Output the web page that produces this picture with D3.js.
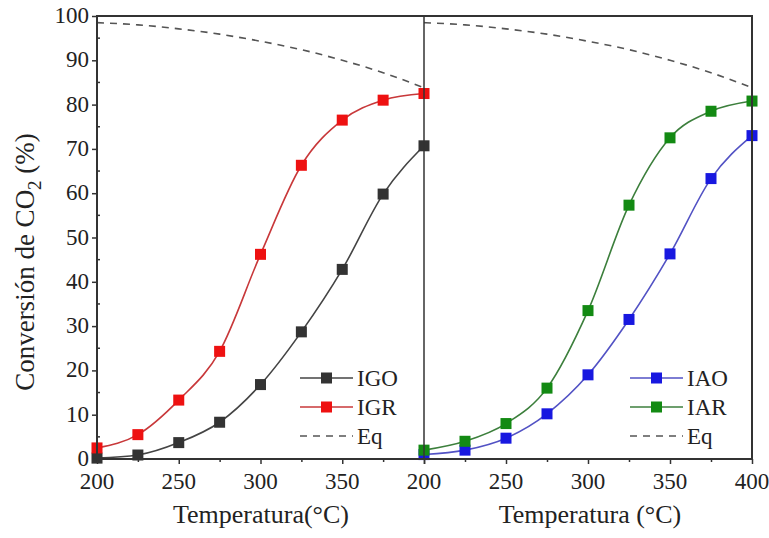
<!DOCTYPE html>
<html>
<head>
<meta charset="utf-8">
<script src="https://cdn.jsdelivr.net/npm/d3@7"></script>
<style>
  body { margin: 0; background: #fff; }
</style>
</head>
<body>
<svg width="769" height="538"></svg>
<script>
  const temps = [200, 225, 250, 275, 300, 325, 350, 375, 400];
  const igo = [0.2, 0.9, 3.7, 8.3, 16.8, 28.7, 42.8, 59.8, 70.7];
  const igr = [2.5, 5.5, 13.3, 24.3, 46.2, 66.3, 76.5, 81.0, 82.5];
  const iao = [1.0, 2.0, 4.7, 10.2, 19.0, 31.5, 46.3, 63.3, 73.0];
  const iar = [2.0, 4.0, 8.0, 16.0, 33.5, 57.3, 72.5, 78.5, 80.8];
  const eq = [98.5, 98.0, 97.1, 95.9, 94.3, 92.4, 90.0, 87.2, 83.8];
  const yTicks = [0, 10, 20, 30, 40, 50, 60, 70, 80, 90, 100];

  (function () {
  const font = '"Liberation Serif", "Times New Roman", serif';
  const svg = d3.select('svg');
  const yTop = 16, yBottom = 459;
  const y = d3.scaleLinear().domain([0, 100]).range([yBottom, yTop]);

  const panels = [
    {x0: 97, x1: 424, series: [
      {name: 'IGO', vals: igo, fill: '#333333', line: '#444444'},
      {name: 'IGR', vals: igr, fill: '#ee1111', line: '#c8383a'}],
      legX: 300, title: 'Temperatura(°C)', titleX: 261, tickLabels: [200, 250, 300, 350]},
    {x0: 424, x1: 752, series: [
      {name: 'IAO', vals: iao, fill: '#1818e0', line: '#5252c4'},
      {name: 'IAR', vals: iar, fill: '#138a13', line: '#3c7f3c'}],
      legX: 630, title: 'Temperatura (°C)', titleX: 590, tickLabels: [200, 250, 300, 350, 400]}
  ];

  panels.forEach(p => {
    const x = d3.scaleLinear().domain([200, 400]).range([p.x0, p.x1]);
    const g = svg.append('g');

    // eq dashed
    g.append('path')
      .datum(temps.map((t, i) => [t, eq[i]]))
      .attr('d', d3.line().x(d => x(d[0])).y(d => y(d[1])).curve(d3.curveMonotoneX))
      .attr('fill', 'none')
      .attr('stroke', '#555')
      .attr('stroke-width', 1.6)
      .attr('stroke-dasharray', '7,6');

    p.series.forEach(s => {
      const pts = temps.map((t, i) => [t, s.vals[i]]);
      g.append('path')
        .datum(pts)
        .attr('d', d3.line().x(d => x(d[0])).y(d => y(d[1])).curve(d3.curveMonotoneX))
        .attr('fill', 'none')
        .attr('stroke', s.line)
        .attr('stroke-width', 1.6);
      g.selectAll(null)
        .data(pts)
        .enter()
        .append('rect')
          .attr('x', d => x(d[0]) - 5.5)
          .attr('y', d => y(d[1]) - 5.5)
          .attr('width', 11)
          .attr('height', 11)
          .attr('fill', s.fill);
    });

    // x axis
    const ax = g.append('g').attr('transform', `translate(0,${yBottom})`);
    ax.call(d3.axisBottom(x).tickValues(temps).tickSize(5).tickFormat(''))
      .call(a => a.select('.domain').remove())
      .selectAll('.tick line')
        .attr('stroke', '#333')
        .attr('stroke-width', 1.5)
        .attr('y2', (d) => d % 50 === 0 ? 5 : 3);
    g.selectAll(null)
      .data(p.tickLabels)
      .enter()
      .append('text')
        .attr('x', d => x(d))
        .attr('y', 489)
        .attr('text-anchor', 'middle')
        .style('font-family', font)
        .attr('font-size', 23)
        .attr('fill', '#222')
        .text(d => d);

    g.append('text')
      .attr('x', p.titleX)
      .attr('y', 523)
      .attr('text-anchor', 'middle')
      .style('font-family', font)
      .attr('font-size', 26)
      .attr('fill', '#222')
      .text(p.title);

    // legend
    const rows = [
      {name: p.series[0].name, color: p.series[0].line, fill: p.series[0].fill, dash: null},
      {name: p.series[1].name, color: p.series[1].line, fill: p.series[1].fill, dash: null},
      {name: 'Eq', color: '#555', fill: null, dash: '7,6'}
    ];
    rows.forEach((r, i) => {
      const ly = 378 + i * 29;
      g.append('line')
        .attr('x1', p.legX).attr('x2', p.legX + 53)
        .attr('y1', ly).attr('y2', ly)
        .attr('stroke', r.color)
        .attr('stroke-width', 1.6)
        .attr('stroke-dasharray', r.dash);
      if (r.fill) {
        g.append('rect')
          .attr('x', p.legX + 26.5 - 5.5).attr('y', ly - 5.5)
          .attr('width', 11).attr('height', 11)
          .attr('fill', r.fill);
      }
      g.append('text')
        .attr('x', p.legX + 57)
        .attr('y', ly + 8)
        .style('font-family', font)
        .attr('font-size', 23)
        .attr('fill', '#222')
        .text(r.name);
    });
  });

  // y axis
  const yAx = svg.append('g').attr('transform', 'translate(97,0)');
  yAx.call(d3.axisLeft(y).tickValues(yTicks).tickSize(5).tickFormat(''))
    .call(a => a.select('.domain').remove())
    .selectAll('.tick line').attr('stroke', '#333').attr('stroke-width', 1.5);
  svg.append('g').selectAll('line')
    .data(d3.range(5, 100, 10))
    .enter()
    .append('line')
      .attr('x1', 97).attr('x2', 100)
      .attr('y1', d => y(d)).attr('y2', d => y(d))
      .attr('stroke', '#333').attr('stroke-width', 1.5);
  svg.append('g').selectAll('text')
    .data(yTicks)
    .enter()
    .append('text')
      .attr('x', 89)
      .attr('y', d => y(d) + 7)
      .attr('text-anchor', 'end')
      .style('font-family', font)
      .attr('font-size', 23)
      .attr('fill', '#222')
      .text(d => d);

  svg.append('text')
    .attr('transform', 'translate(34,262) rotate(-90)')
    .attr('text-anchor', 'middle')
    .style('font-family', font)
    .attr('font-size', 27)
    .attr('fill', '#222')
    .html('Conversión de CO<tspan dy="7" font-size="19">2</tspan><tspan dy="-7"> (%)</tspan>');

  // frame
  svg.append('rect')
    .attr('x', 97).attr('y', yTop)
    .attr('width', 752 - 97).attr('height', yBottom - yTop)
    .attr('fill', 'none')
    .attr('stroke', '#333')
    .attr('stroke-width', 2);
  svg.append('line')
    .attr('x1', 424).attr('x2', 424)
    .attr('y1', yTop).attr('y2', yBottom)
    .attr('stroke', '#333')
    .attr('stroke-width', 1.5);
  }());
</script>
</body>
</html>
